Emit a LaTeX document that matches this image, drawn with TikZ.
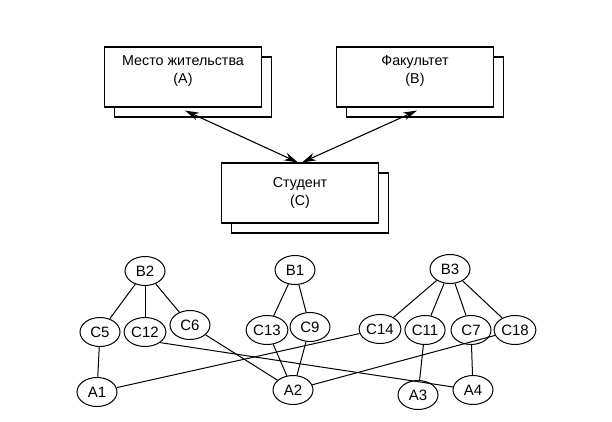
\documentclass[tikz,border=0pt]{standalone}
\usepackage{fontspec}
\setmainfont{Liberation Sans}
\usetikzlibrary{arrows.meta,shapes.geometric,shadows}

\begin{document}
\begin{tikzpicture}[x=1pt,y=-1pt, line width=1pt,
  every node/.style={font=\fontsize{14.3}{18}\selectfont},
  ent/.style={draw,fill=white,line width=1.1pt,minimum width=157pt,minimum height=60pt,align=center,
    copy shadow={shadow xshift=10pt,shadow yshift=-10pt,draw,fill=white,line width=1.1pt}},
  ov/.style={ellipse,draw,fill=white,minimum width=40pt,minimum height=29pt,inner sep=1pt,font=\fontsize{15}{17}\selectfont},
  link/.style={{Stealth[length=14pt,width=8pt]}-{Stealth[length=14pt,width=8pt]},line width=1.1pt}]
\useasboundingbox (0,0) rectangle (612,422);
% entity boxes
\node[ent] (mesto) at (183,77) {Место жительства\\(A)\\[-3pt]};
\node[ent] (fakultet) at (415,77) {Факультет\\(B)\\[-3pt]};
\node[ent] (student) at (300,193) {Студент\\(C)};
\draw[link] ([xshift=2pt,yshift=-3pt]mesto.south) -- ([xshift=-2pt]student.north);
\draw[link] ([xshift=2pt,yshift=-3pt]fakultet.south) -- ([xshift=2pt]student.north);
% instance graph
\foreach \n/\x/\y in {B2/145/271,B1/295/270,B3/450/269,
  C5/100/332,C12/145/332,C6/190/325,C13/267/330,C9/310/327,
  C14/380/329,C11/425/330,C7/471/330,C18/515/330,
  A1/97/392,A2/293/390,A3/418/395,A4/473/390}{
  \node[ov] (\n) at (\x,\y) {\n};
}
\draw (B2)--(C5); \draw (B2)--(C12); \draw (B2)--(C6);
\draw (B1)--(C13); \draw (B1)--(C9);
\draw (B3)--(C14); \draw (B3)--(C11); \draw (B3)--(C7); \draw (B3)--(C18);
\draw (C5)--(A1); \draw (C14)--(A1);
\draw (C6)--(A2); \draw (C13)--(A2); \draw (C9)--(A2); \draw (C18)--(A2);
\draw (C11)--(A3);
\draw (C12.south east)--(A4); \draw (C7)--(A4);
\end{tikzpicture}
\end{document}
